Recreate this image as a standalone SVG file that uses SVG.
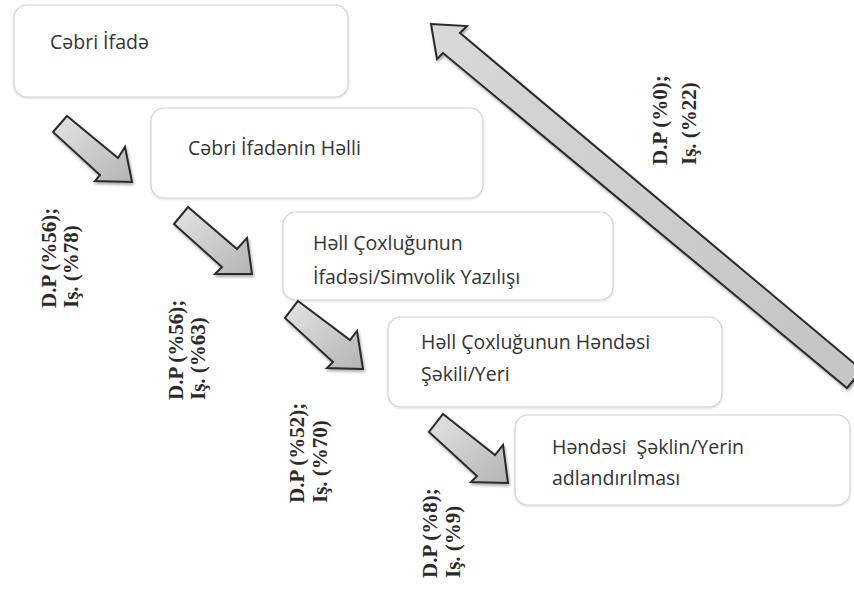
<svg xmlns="http://www.w3.org/2000/svg" width="854" height="598" viewBox="0 0 854 598">
<defs>
<linearGradient id="ag" x1="0" y1="0" x2="1" y2="1">
<stop offset="0" stop-color="#e4e4e4"/>
<stop offset="1" stop-color="#b4b4b4"/>
</linearGradient>
<linearGradient id="bg" x1="0" y1="0" x2="1" y2="0.3">
<stop offset="0" stop-color="#d8d8d8"/>
<stop offset="1" stop-color="#c6c6c6"/>
</linearGradient>
<filter id="sh" x="-20%" y="-20%" width="140%" height="140%">
<feDropShadow dx="1" dy="2" stdDeviation="1.5" flood-color="#000" flood-opacity="0.35"/>
</filter>
<filter id="bs" x="-5%" y="-5%" width="110%" height="115%">
<feDropShadow dx="0" dy="1" stdDeviation="1" flood-color="#000" flood-opacity="0.15"/>
</filter>
</defs>
<style>
.box{fill:#fff;stroke:#d2d2d2;stroke-width:1.2;filter:url(#bs)}
.t{font-family:"Open Sans","Noto Sans","DejaVu Sans",sans-serif;font-size:19.5px;fill:#333;white-space:pre}
.ar{fill:url(#ag);stroke:#2b2b2b;stroke-width:2;stroke-linejoin:miter;filter:url(#sh)}
.big{fill:url(#bg);stroke:#2b2b2b;stroke-width:2;filter:url(#sh)}
.lb{font-family:"Liberation Serif","Times New Roman",serif;font-size:21px;font-weight:bold;fill:#2a2a2a}
</style>
<rect width="854" height="598" fill="#fff"/>

<g id="node1">
<rect class="box" x="14" y="5" width="334" height="92" rx="13"/>
<text class="t" x="50" y="49">Cəbri İfadə</text>
</g>
<g id="node2">
<rect class="box" x="151" y="108" width="332" height="90" rx="13"/>
<text class="t" x="188" y="155">Cəbri İfadənin Həlli</text>
</g>
<g id="node3">
<rect class="box" x="283" y="212" width="330" height="88" rx="13"/>
<text class="t" x="313" y="250">Həll Çoxluğunun</text>
<text class="t" x="313" y="284">İfadəsi/Simvolik Yazılışı</text>
</g>
<g id="node4">
<rect class="box" x="388" y="317" width="334" height="90" rx="13"/>
<text class="t" x="421" y="349">Həll Çoxluğunun Həndəsi</text>
<text class="t" x="421" y="381">Şəkili/Yeri</text>
</g>
<g id="node5">
<rect class="box" x="515" y="415" width="335" height="90" rx="13"/>
<text class="t" x="552" y="454">Həndəsi  Şəklin/Yerin</text>
<text class="t" x="552" y="485">adlandırılması</text>
</g>

<g id="connectors">
<polygon class="ar" points="67,116 118,158 125,147 132,182 95,181 100,175 53,132"/>
<polygon class="ar" points="188,207 237,249 247,238 252,274 215,274 222,267 174,224"/>
<polygon class="ar" points="298,301 350,340 357,331 363,369 327,368 333,362 285,318"/>
<polygon class="ar" points="443,414 495,455 503,445 508,483 471,482 477,476 429,432"/>
<polygon class="big" points="431,24 467,26 460,33 862,370 847,388 443,53 437,59"/>
</g>

<g id="labels">
<text class="lb" transform="translate(56,308) rotate(-90)"><tspan x="0" y="0">D.P (%56);</tspan><tspan x="0" y="22">Iş. (%78)</tspan></text>
<text class="lb" transform="translate(183,400) rotate(-90)"><tspan x="0" y="0">D.P (%56);</tspan><tspan x="0" y="22">Iş. (%63)</tspan></text>
<text class="lb" transform="translate(304,503) rotate(-90)"><tspan x="0" y="0">D.P (%52);</tspan><tspan x="0" y="23">Iş. (%70)</tspan></text>
<text class="lb" transform="translate(437,578) rotate(-90)"><tspan x="0" y="0">D.P (%8);</tspan><tspan x="0" y="23">Iş. (%9)</tspan></text>
<text class="lb" transform="translate(667,165) rotate(-90)"><tspan x="0" y="0">D.P (%0);</tspan><tspan x="0" y="29">Iş. (%22)</tspan></text>
</g>
</svg>
